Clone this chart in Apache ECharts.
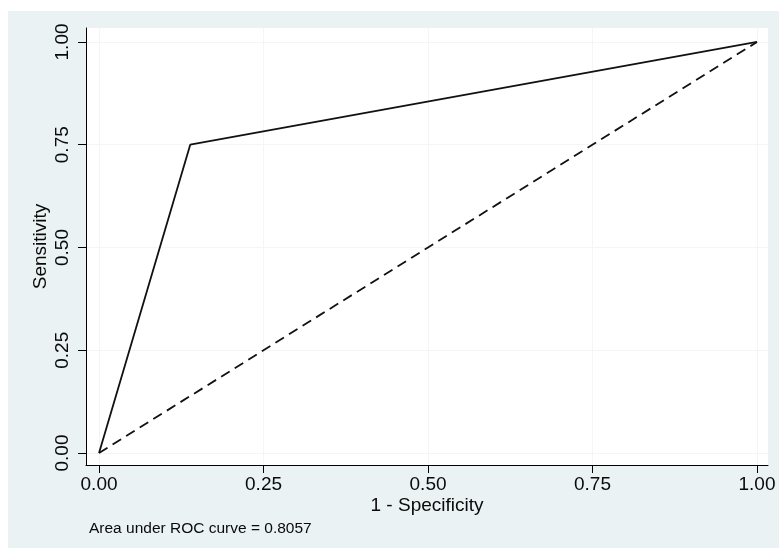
<!DOCTYPE html>
<html>
<head>
<meta charset="utf-8">
<title>ROC curve</title>
<script src="https://cdn.jsdelivr.net/npm/echarts@6/dist/echarts.min.js"></script>
<style>
  html, body { margin: 0; padding: 0; background: #ffffff; }
  #chart { width: 779px; height: 554px; }
</style>
</head>
<body>
<div id="chart"></div>
<script>
// ROC curve points: 1 - specificity vs sensitivity
const oneMinusSpecificity = [0, 0.1386, 1];
const sensitivity = [0, 0.75, 1];
// chance (reference) line
const referenceX = [0, 1];
const referenceY = [0, 1];
// tick values shared by both axes
const tickValues = [0, 0.25, 0.5, 0.75, 1];
const aucText = 'Area under ROC curve = 0.8057';

const FONT = '"Liberation Sans", Arial, Helvetica, sans-serif';
const bgColor = '#eaf2f3';

const rocData = oneMinusSpecificity.map((x, i) => [x, sensitivity[i]]);
const refData = referenceX.map((x, i) => [x, referenceY[i]]);

const chart = echarts.init(document.getElementById('chart'), null, { renderer: 'canvas' });

const fmt = v => Number(v).toFixed(2);

chart.setOption({
  backgroundColor: '#ffffff',
  animation: false,
  graphic: [{
    type: 'rect',
    z: -10,
    silent: true,
    shape: { x: 8, y: 11, width: 771, height: 537 },
    style: { fill: bgColor }
  }],
  title: {
    text: aucText,
    left: 89,
    top: 521,
    padding: 0,
    textStyle: { fontFamily: FONT, fontSize: 15.5, fontWeight: 'normal', color: '#0a0a0a' }
  },
  grid: {
    left: 86, right: 11, top: 28, bottom: 89,
    show: true,
    backgroundColor: '#ffffff',
    borderWidth: 0,
    containLabel: false
  },
  xAxis: {
    type: 'value',
    min: -0.0198,
    max: 1.0167,
    name: '1 - Specificity',
    nameLocation: 'middle',
    nameGap: 31,
    nameMoveOverlap: false,
    nameTextStyle: { fontFamily: FONT, fontSize: 19, color: '#0a0a0a' },
    axisLine: { show: true, onZero: false, lineStyle: { color: '#000', width: 1 } },
    axisTick: { show: true, length: 8, customValues: tickValues, lineStyle: { color: '#000' } },
    axisLabel: {
      customValues: tickValues,
      formatter: fmt,
      margin: 10,
      fontFamily: FONT, fontSize: 19, color: '#0a0a0a'
    },
    splitLine: { show: true, lineStyle: { color: '#f3f6f6', width: 1 } }
  },
  yAxis: {
    type: 'value',
    min: -0.0292,
    max: 1.034,
    name: 'Sensitivity',
    nameLocation: 'middle',
    nameRotate: 90,
    nameGap: 36,
    nameMoveOverlap: false,
    nameTextStyle: { fontFamily: FONT, fontSize: 19, color: '#0a0a0a' },
    axisLine: { show: true, onZero: false, lineStyle: { color: '#000', width: 1 } },
    axisTick: { show: true, length: 8, customValues: tickValues, lineStyle: { color: '#000' } },
    axisLabel: {
      customValues: tickValues,
      formatter: fmt,
      rotate: 90,
      margin: 14,
      fontFamily: FONT, fontSize: 19, color: '#0a0a0a'
    },
    splitLine: { show: true, lineStyle: { color: '#f3f6f6', width: 1 } }
  },
  series: [
    {
      name: 'ROC',
      type: 'line',
      data: rocData,
      showSymbol: false,
      symbol: 'none',
      lineStyle: { color: '#111', width: 1.8 },
      z: 3
    },
    {
      name: 'Reference',
      type: 'line',
      data: refData,
      showSymbol: false,
      symbol: 'none',
      lineStyle: { color: '#111', width: 1.8, type: [10, 6] },
      z: 2
    }
  ]
});
</script>
</body>
</html>
